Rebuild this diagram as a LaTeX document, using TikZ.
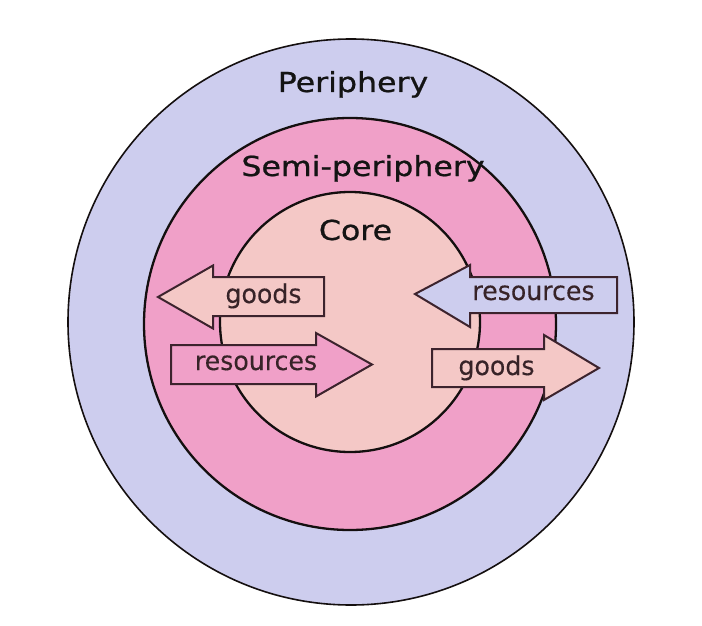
\documentclass[tikz,border=0pt]{standalone}
\usepackage{fontspec}
\setmainfont{DejaVu Sans}
\newfontfamily\headfont[FakeStretch=1.15,FakeBold=0.8]{DejaVu Sans}
\newfontfamily\arrfont[FakeStretch=0.97,FakeBold=0.3]{DejaVu Sans}
\definecolor{perif}{RGB}{205,205,238}
\definecolor{semi}{RGB}{240,160,200}
\definecolor{corec}{RGB}{244,200,198}
\definecolor{edge}{RGB}{20,15,15}
\definecolor{arredge}{RGB}{60,35,45}
\definecolor{arrtext}{RGB}{55,35,40}
\tikzset{
  ring/.style={draw=edge, line width=2.3pt},
  flowarrow/.style={draw=arredge, line width=2pt, line join=miter},
  headlabel/.style={font=\headfont\fontsize{27.5}{30}\selectfont, text=black!92, anchor=base, inner sep=0pt},
  arrlabel/.style={font=\arrfont\fontsize{26}{28}\selectfont, text=arrtext, anchor=base, inner sep=0pt}
}
\begin{document}
\begin{tikzpicture}[x=1pt,y=-1pt]
\useasboundingbox (0,0) rectangle (702,626);
\fill[white] (0,0) rectangle (702,626);
% rings
\draw[ring, fill=perif, line width=1.6pt] (351,322) circle[radius=283];
\draw[ring, fill=semi] (350,324) circle[radius=206];
\draw[ring, fill=corec] (350,322) circle[radius=130];
% labels
\node[headlabel] (periphery) at (353,92) {Periphery};
\node[headlabel] (semiperiphery) at (363,176) {Semi-periphery};
\node[headlabel] (core) at (355.5,240) {Core};
% left goods arrow (pointing left)
\draw[flowarrow, fill=corec] (158,297) -- (213,265.5) -- (213,277) -- (324,277) -- (324,316) -- (213,316) -- (213,328.5) -- cycle;
\node[arrlabel] (lgoods) at (263.5,303) {goods};
% left resources arrow (pointing right)
\draw[flowarrow, fill=semi] (171,345) -- (316,345) -- (316,333) -- (372,364.5) -- (316,396.5) -- (316,384) -- (171,384) -- cycle;
\node[arrlabel] (lres) at (256,370) {resources};
% right resources arrow (pointing left)
\draw[flowarrow, fill=perif] (415,294) -- (470,265) -- (470,277) -- (617,277) -- (617,313) -- (470,313) -- (470,327) -- cycle;
\node[arrlabel] (rres) at (533.5,300) {resources};
% right goods arrow (pointing right)
\draw[flowarrow, fill=corec] (432,349) -- (544,349) -- (544,335) -- (599,368) -- (544,400) -- (544,387) -- (432,387) -- cycle;
\node[arrlabel] (rgoods) at (496.5,375) {goods};
\end{tikzpicture}
\end{document}
